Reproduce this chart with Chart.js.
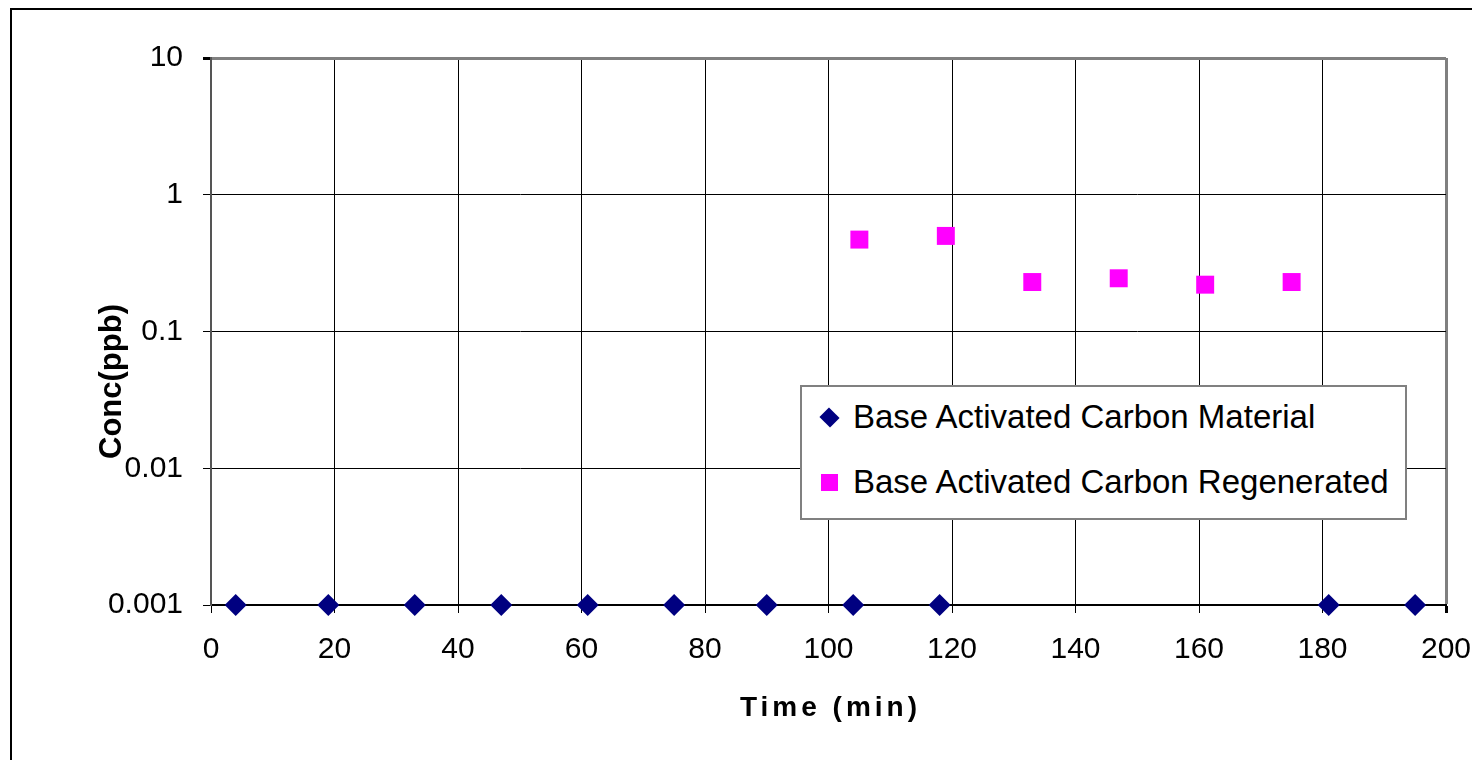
<!DOCTYPE html>
<html>
<head>
<meta charset="utf-8">
<script src="https://cdn.jsdelivr.net/npm/chart.js@4.4.1/dist/chart.umd.min.js"></script>
<style>
  body { margin: 0; background: #fff; overflow: hidden; }
  #frame { position: absolute; left: 10px; top: 8px; width: 1600px; height: 900px;
           border-left: 2px solid #000; border-top: 2px solid #000; }
  #wrap { position: absolute; left: 0; top: 0; width: 1472px; height: 760px; }
  #legend { position: absolute; left: 800px; top: 385px; width: 603px; height: 131px;
            border: 2px solid #808080; background: #fff;
            font-family: 'Liberation Sans', Arial, sans-serif; font-size: 33px; color: #000; }
  .item { position: absolute; left: 0; height: 40px; line-height: 40px; white-space: nowrap; }
  .item span.txt { position: absolute; left: 51px; top: 0; }
  .mk { position: absolute; }
</style>
</head>
<body>
<div id="frame"></div>
<div id="wrap"><canvas id="myChart"></canvas></div>
<div id="legend"></div>
<script>
// data
var materialTime = [4, 19, 33, 47, 61, 75, 90, 104, 118, 181, 195];
var materialConc = [0.001, 0.001, 0.001, 0.001, 0.001, 0.001, 0.001, 0.001, 0.001, 0.001, 0.001];
var regenTime = [105, 119, 133, 147, 161, 175];
var regenConc = [0.47, 0.5, 0.23, 0.245, 0.22, 0.23];
var yTicks = [0.001, 0.01, 0.1, 1, 10];
var xTicks = [0, 20, 40, 60, 80, 100, 120, 140, 160, 180, 200];

var seriesNames = ['Base Activated Carbon Material', 'Base Activated Carbon Regenerated'];

function toPoints(xs, ys) {
    return xs.map(function (x, i) { return { x: x, y: ys[i] }; });
}

var font = "'Liberation Sans', Arial, sans-serif";

// small tweaks to the axis titles (letter spacing on x, shift on y)
var titleTweak = {
    id: 'titleTweak',
    afterLayout: function (chart) {
        var sx = chart.scales.x, sy = chart.scales.y;
        if (sx && !sx._tweaked) {
            var ox = sx.drawTitle;
            sx.drawTitle = function () {
                var c = this.ctx; c.save(); c.letterSpacing = '4px'; c.translate(2, 0); ox.call(this); c.restore();
            };
            sx._tweaked = true;
        }
        if (sy && !sy._tweaked) {
            var oy = sy.drawTitle;
            sy.drawTitle = function () {
                var c = this.ctx; c.save(); c.translate(0, 50); oy.call(this); c.restore();
            };
            sy._tweaked = true;
        }
    }
};

var ctx = document.getElementById('myChart').getContext('2d');
var myChart = new Chart(ctx, {
    type: 'scatter',
    data: {
        datasets: [{
            label: seriesNames[0],
            data: toPoints(materialTime, materialConc),
            pointStyle: 'rectRot',
            pointRadius: 11,
            pointHoverRadius: 11,
            backgroundColor: '#000080',
            borderColor: '#000080',
            borderWidth: 0,
            clip: false
        }, {
            label: seriesNames[1],
            data: toPoints(regenTime, regenConc),
            pointStyle: 'rect',
            pointRadius: 12.7,
            pointHoverRadius: 12.7,
            backgroundColor: '#FF00FF',
            borderColor: '#FF00FF',
            borderWidth: 0,
            clip: false
        }]
    },
    plugins: [titleTweak],
    options: {
        responsive: true,
        maintainAspectRatio: false,
        animation: false,
        layout: { padding: { top: 58, right: 26, bottom: 0, left: 0 } },
        plugins: {
            legend: { display: false },
            tooltip: { enabled: false }
        },
        scales: {
            x: {
                type: 'linear',
                min: 0,
                max: 200,
                afterBuildTicks: function (axis) {
                    axis.ticks = xTicks.map(function (v) { return { value: v }; });
                },
                afterFit: function (axis) {
                    axis.height = 155;
                    axis.paddingLeft = 0;
                    axis.paddingRight = 0;
                },
                ticks: {
                    color: '#000',
                    font: { family: font, size: 30 },
                    padding: 19,
                    maxRotation: 0,
                    autoSkip: false
                },
                grid: {
                    color: function (c) { return c.tick && c.tick.value === 200 ? '#808080' : '#000'; },
                    lineWidth: function (c) { return c.tick && c.tick.value === 200 ? 3 : 1; },
                    tickColor: '#000',
                    tickLength: 8
                },
                border: { color: '#000', width: 2 },
                title: {
                    display: true,
                    text: 'Time (min)',
                    color: '#000',
                    font: { family: font, size: 28, weight: 'bold' },
                    padding: { top: 0, bottom: 35 }
                }
            },
            y: {
                type: 'logarithmic',
                min: 0.001,
                max: 10,
                afterBuildTicks: function (axis) {
                    axis.ticks = yTicks.map(function (v) { return { value: v }; });
                },
                afterFit: function (axis) {
                    axis.width = 211;
                    axis.paddingTop = 0;
                    axis.paddingBottom = 0;
                },
                ticks: {
                    color: '#000',
                    font: { family: font, size: 30 },
                    padding: 20,
                    autoSkip: false,
                    callback: function (v) { return String(v); }
                },
                grid: {
                    color: function (c) { return c.tick && c.tick.value === 10 ? '#808080' : '#000'; },
                    lineWidth: function (c) { return c.tick && c.tick.value === 10 ? 3 : 1; },
                    tickColor: '#000',
                    tickLength: 8
                },
                border: { color: '#555', width: 2 },
                title: {
                    display: true,
                    text: 'Conc(ppb)',
                    color: '#000',
                    font: { family: font, size: 31, weight: 'bold' },
                    padding: { top: 94, bottom: 0 }
                }
            }
        }
    }
});

// html legend built from the datasets
var legend = document.getElementById('legend');
myChart.data.datasets.forEach(function (ds, i) {
    var item = document.createElement('div');
    item.className = 'item';
    item.style.top = (10 + i * 65) + 'px';
    var mk = document.createElement('div');
    mk.className = 'mk';
    mk.style.background = ds.backgroundColor;
    if (ds.pointStyle === 'rectRot') {
        mk.style.width = '15px'; mk.style.height = '15px';
        mk.style.left = '20px'; mk.style.top = '13px';
        mk.style.transform = 'rotate(45deg) scaleY(0.9)';
    } else {
        mk.style.width = '17px'; mk.style.height = '17px';
        mk.style.left = '19px'; mk.style.top = '12px';
    }
    var txt = document.createElement('span');
    txt.className = 'txt';
    txt.textContent = ds.label;
    item.appendChild(mk);
    item.appendChild(txt);
    legend.appendChild(item);
});
</script>
</body>
</html>
